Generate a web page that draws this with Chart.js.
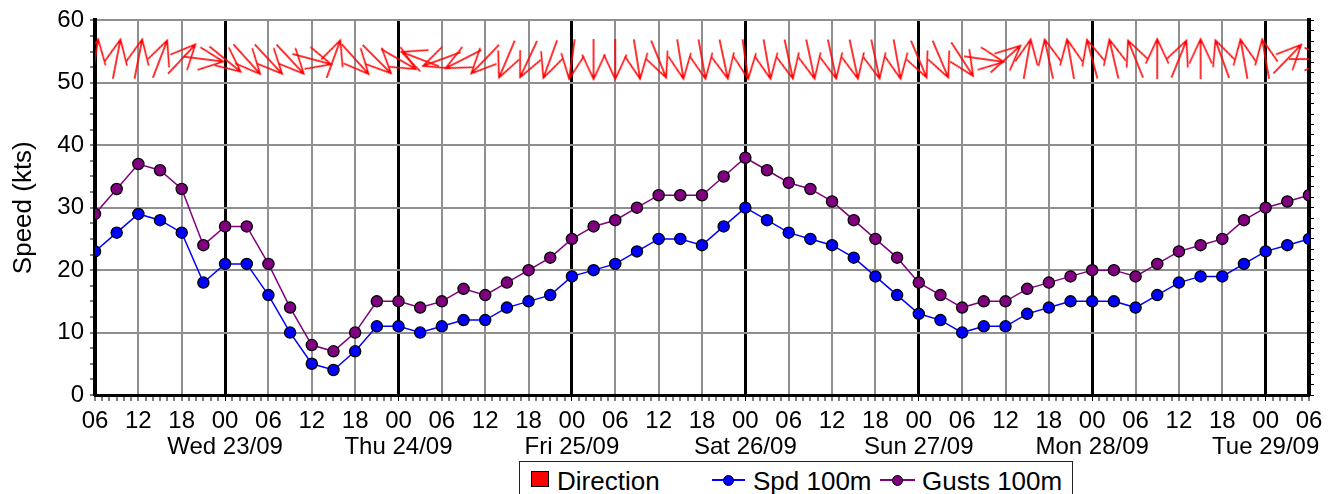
<!DOCTYPE html>
<html>
<head>
<meta charset="utf-8">
<title>Wind speed and direction</title>
<script src="https://cdn.jsdelivr.net/npm/chart.js@4.4.1/dist/chart.umd.min.js"></script>
<style>
  html, body { margin: 0; padding: 0; background: #fff; }
  #wrap { position: relative; width: 1332px; height: 494px; overflow: hidden; }
  #legend { position: absolute; left: 519px; top: 461px; width: 552px; height: 60px;
            border: 1px solid #222; background: #fff;
            font: 26px 'Liberation Sans', Arial, sans-serif; color: #000; }
  #legend span { position: absolute; }
  #legend .txt { top: 4px; line-height: 30px; white-space: nowrap; }
  #legend .box { left: 11px; top: 9px; width: 16px; height: 14px; background: #ff0000; border: 1px solid #000; }
  #legend .ln { top: 17px; height: 2px; }
  #legend .dot { top: 13px; width: 9px; height: 9px; border-radius: 50%; border: 1px solid #000; }
</style>
</head>
<body>
<div id="wrap">
  <canvas id="wind-chart"></canvas>
  <div id="legend">
    <span class="box"></span><span class="txt" style="left:37px">Direction</span>
    <span class="ln" style="left:192px;width:33px;background:#0000ff"></span>
    <span class="dot" style="left:203px;background:#0000ff"></span>
    <span class="txt" style="left:233px">Spd 100m</span>
    <span class="ln" style="left:360px;width:35px;background:#800080"></span>
    <span class="dot" style="left:372px;background:#800080"></span>
    <span class="txt" style="left:402px">Gusts 100m</span>
  </div>
</div>
<script>
// 3-hourly samples, Tue 22/09 06:00 -> Tue 29/09 06:00
const startHour = 6;
const stepHours = 3;
const dayLabels = ['Wed 23/09', 'Thu 24/09', 'Fri 25/09', 'Sat 26/09', 'Sun 27/09', 'Mon 28/09', 'Tue 29/09'];

const spd100 = [23,26,29,28,26,18,21,21,16,10,5,4,7,11,11,10,11,12,12,14,15,16,19,20,21,23,25,25,24,27,
                30,28,26,25,24,22,19,16,13,12,10,11,11,13,14,15,15,15,14,16,18,19,19,21,23,24,25];
const gust100 = [29,33,37,36,33,24,27,27,21,14,8,7,10,15,15,14,15,17,16,18,20,22,25,27,28,30,32,32,32,35,
                 38,36,34,33,31,28,25,22,18,16,14,15,15,17,18,19,20,20,19,21,23,24,25,28,30,31,32];
// wind direction (degrees, blowing from)
const windFrom = [189,191,191,201,223,277,309,318,317,317,285,200,318,315,300,111,70,63,44,23,
                  25,20,8,0,0,351,338,351,350,348,352,350,348,348,348,348,348,350,337,337,
                  327,278,228,190,168,170,165,167,158,180,202,180,160,170,170,224,270];
const dirLevel = 53.8;   // speed level the arrow row sits on

const toPoints = arr => arr.map((v, i) => ({ x: i * stepHours, y: v }));

// red arrow, drawn pointing up; Chart.js rotates it per point
function arrowImage() {
  const c = document.createElement('canvas');
  c.width = 52; c.height = 52;
  const g = c.getContext('2d');
  g.translate(26, 26);
  g.strokeStyle = '#ff0000';
  g.lineWidth = 1.6;
  const half = 20, barb = 27, a = 25 * Math.PI / 180;
  g.beginPath();
  g.moveTo(0, half); g.lineTo(0, -half);
  g.moveTo(-barb * Math.sin(a), -half + barb * Math.cos(a));
  g.lineTo(0, -half);
  g.lineTo(barb * Math.sin(a), -half + barb * Math.cos(a));
  g.stroke();
  return c;
}

const hourOf = v => (startHour + v) % 24;
const GRID = '#8f8f8f';

Chart.defaults.font.family = "'Liberation Sans', Arial, sans-serif";
Chart.defaults.color = '#000';

new Chart(document.getElementById('wind-chart'), {
  type: 'line',
  data: {
    datasets: [{
      label: 'Direction',
      data: windFrom.map((d, i) => ({ x: i * stepHours, y: dirLevel })),
      showLine: false,
      pointStyle: arrowImage(),
      pointRadius: 3,
      pointRotation: ctx => (windFrom[ctx.dataIndex] + 180) % 360
    }, {
      label: 'Spd 100m',
      data: toPoints(spd100),
      borderColor: '#0000ff',
      borderWidth: 1.5,
      pointBackgroundColor: '#0000ff',
      pointBorderColor: '#000',
      pointBorderWidth: 1.3,
      pointRadius: 5.6,
      tension: 0
    }, {
      label: 'Gusts 100m',
      data: toPoints(gust100),
      borderColor: '#800080',
      borderWidth: 1.5,
      pointBackgroundColor: '#800080',
      pointBorderColor: '#000',
      pointBorderWidth: 1.3,
      pointRadius: 5.6,
      tension: 0
    }]
  },
  options: {
    responsive: true,
    maintainAspectRatio: false,
    animation: false,
    events: [],
    layout: { padding: { top: 18, left: 0, right: 0, bottom: 0 } },
    plugins: { legend: { display: false }, tooltip: { enabled: false } },
    scales: {
      x: {
        type: 'linear',
        min: 0,
        max: (spd100.length - 1) * stepHours,
        afterFit: s => { s.height = 99; },
        border: { color: '#000', width: 3 },
        grid: {
          color: c => c.tick.value % 6 ? 'transparent' : (hourOf(c.tick.value) === 0 ? '#000' : GRID),
          lineWidth: c => hourOf(c.tick.value) === 0 ? 3 : 2,
          tickColor: '#000',
          tickWidth: 1,
          tickLength: 6
        },
        ticks: {
          stepSize: 1,
          autoSkip: false,
          maxRotation: 0,
          minRotation: 0,
          padding: 7,
          font: { size: 24, lineHeight: 1.08 },
          callback: v => {
            if (v % 6) return '';
            const h = hourOf(v);
            const hh = String(h).padStart(2, '0');
            return h === 0 ? [hh, dayLabels[(startHour + v) / 24 - 1]] : hh;
          }
        }
      },
      y: {
        position: 'left',
        min: 0,
        max: 60,
        afterFit: s => { s.width = 95; },
        border: { color: '#000', width: 4 },
        grid: {
          color: c => (c.tick.value % 10 === 0 && c.tick.value > 0) ? GRID : 'transparent',
          lineWidth: 2,
          tickColor: '#000',
          tickWidth: 1,
          tickLength: 5
        },
        ticks: {
          stepSize: 2.5,
          autoSkip: false,
          padding: 6,
          font: { size: 24 },
          callback: v => v % 10 === 0 ? v : ''
        },
        title: {
          display: true,
          text: 'Speed (kts)',
          font: { size: 26 },
          padding: { top: 8, bottom: 0 }
        }
      },
      y2: {
        position: 'right',
        min: 0,
        max: 36,
        afterFit: s => { s.width = 23; },
        border: { color: '#000', width: 4 },
        grid: { drawOnChartArea: false, tickColor: '#000', tickWidth: 1, tickLength: 5 },
        ticks: { stepSize: 1, autoSkip: false, padding: 0, callback: () => '' }
      }
    }
  }
});
</script>
</body>
</html>
